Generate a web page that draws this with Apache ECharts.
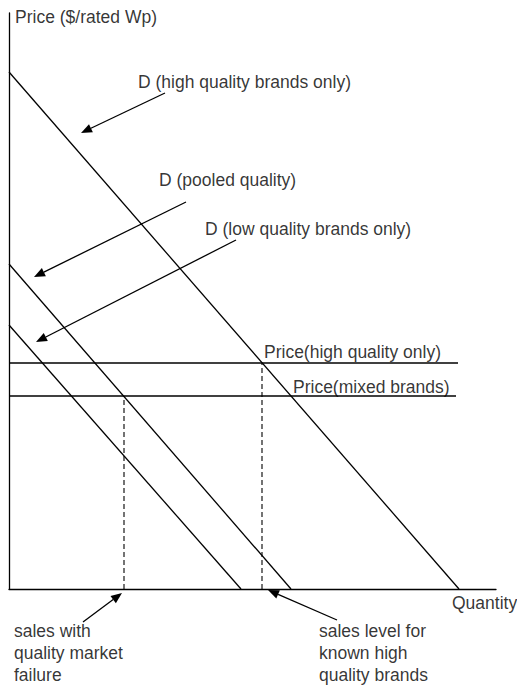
<!DOCTYPE html>
<html>
<head>
<meta charset="utf-8">
<title>Demand with quality market failure</title>
<script src="https://cdn.jsdelivr.net/npm/echarts@6/dist/echarts.min.js"></script>
<style>
  html, body { margin: 0; padding: 0; background: #fff; }
  #chart { width: 517px; height: 686px; }
</style>
</head>
<body>
<div id="chart"></div>
<script>
// all points are [quantity, price] in the sketch's own units (origin at the axes' corner)
const demandHigh = [[0, 517], [450, 0]];
const demandPooled = [[0, 325], [282, 0]];
const demandLow = [[0, 264], [232, 0]];
const priceHighOnly = [[0, 226], [449, 226]];
const priceMixed = [[0, 193], [447, 193]];
const salesKnownHigh = [[253, 0], [253, 226]];
const salesFailure = [[115, 0], [115, 193]];

// pointer arrows: [tail, tip]
const arrows = [
  [[156, 496], [72, 456]],
  [[177, 387], [25, 312]],
  [[227, 349], [27, 247]],
  [[74, -33], [113, -4]],
  [[328, -31], [259, -1]],
];

const labelTexts = [
  'Price ($/rated Wp)',
  'D (high quality brands only)',
  'D (pooled quality)',
  'D (low quality brands only)',
  'Price(high quality only)',
  'Price(mixed brands)',
  'Quantity',
  'sales with\nquality market\nfailure',
  'sales level for\nknown high\nquality brands',
];
// left edge / vertical middle of each label
const labelAnchors = [
  [6, 572], [129, 507], [150, 409], [196, 360],
  [255, 237], [284, 202], [443, -14], [5, -64], [310, -64],
];

const INK = '#000';
const FONT = "'Liberation Sans', Arial, sans-serif";

const chart = echarts.init(document.getElementById('chart'), null, { renderer: 'svg' });

function segment(name, data, dashed) {
  return {
    name,
    type: 'line',
    data,
    symbol: 'none',
    silent: true,
    lineStyle: dashed
      ? { color: INK, width: 1.1, type: [5, 3] }
      : { color: INK, width: 1.3, type: 'solid' },
  };
}

const bareAxis = {
  type: 'value',
  axisLine: { show: true, lineStyle: { color: INK, width: 1.3 } },
  axisTick: { show: false },
  axisLabel: { show: false },
  splitLine: { show: false },
};

chart.setOption({
  backgroundColor: '#fff',
  animation: false,
  grid: { left: 9, right: 21, top: 13, bottom: 97, containLabel: false },
  xAxis: { ...bareAxis, min: 0, max: 487 },
  yAxis: { ...bareAxis, min: 0, max: 576 },
  series: [
    segment('D high', demandHigh),
    segment('D pooled', demandPooled),
    segment('D low', demandLow),
    segment('Price high only', priceHighOnly),
    segment('Price mixed', priceMixed),
    segment('Sales known high', salesKnownHigh, true),
    segment('Sales failure', salesFailure, true),
    {
      name: 'arrows',
      type: 'custom',
      silent: true,
      clip: false,
      data: arrows.map(([t, h]) => [t[0], t[1], h[0], h[1]]),
      renderItem(params, api) {
        const tail = api.coord([api.value(0), api.value(1)]);
        const tip = api.coord([api.value(2), api.value(3)]);
        const dx = tip[0] - tail[0];
        const dy = tip[1] - tail[1];
        const len = Math.hypot(dx, dy);
        const ux = dx / len;
        const uy = dy / len;
        const headLen = 11;
        const headHalf = 4.5;
        const bx = tip[0] - ux * headLen;
        const by = tip[1] - uy * headLen;
        return {
          type: 'group',
          children: [
            {
              type: 'line',
              shape: { x1: tail[0], y1: tail[1], x2: bx, y2: by },
              style: { stroke: INK, lineWidth: 1.3 },
            },
            {
              type: 'polygon',
              shape: {
                points: [
                  [tip[0], tip[1]],
                  [bx - uy * headHalf, by + ux * headHalf],
                  [bx + uy * headHalf, by - ux * headHalf],
                ],
              },
              style: { fill: INK },
            },
          ],
        };
      },
    },
    {
      name: 'labels',
      type: 'scatter',
      silent: true,
      clip: false,
      symbolSize: 0,
      data: labelAnchors.map((p, i) => ({ name: labelTexts[i], value: p })),
      label: {
        show: true,
        position: [0, 0],
        align: 'left',
        verticalAlign: 'middle',
        formatter: (p) => p.name,
        color: INK,
        fontFamily: FONT,
        fontSize: 17.5,
        lineHeight: 22,
      },
    },
  ],
});
</script>
</body>
</html>
